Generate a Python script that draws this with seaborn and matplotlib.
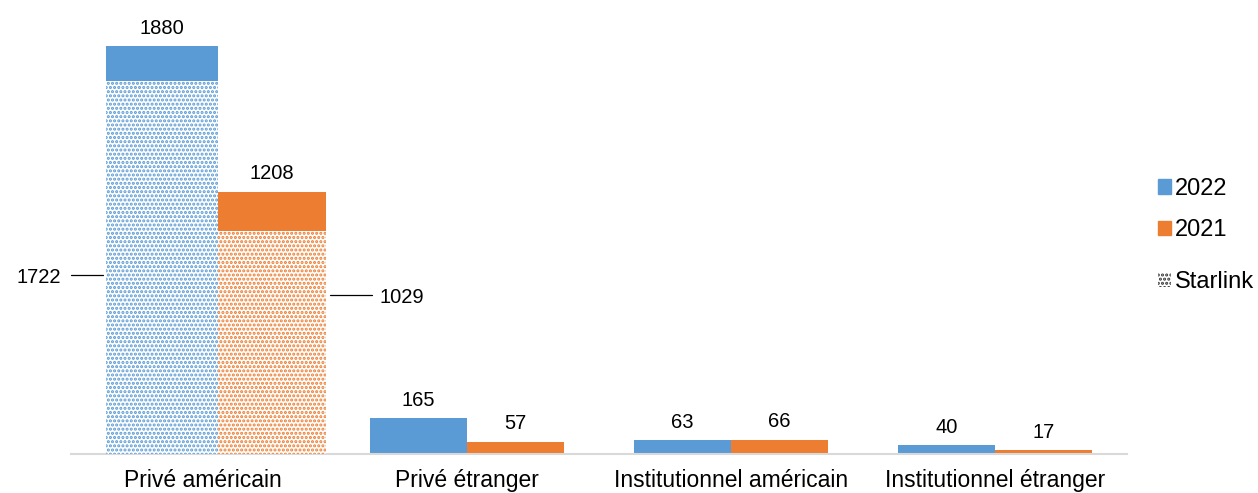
import matplotlib
matplotlib.use("Agg")
import matplotlib.pyplot as plt
import pandas as pd
import seaborn as sns
from matplotlib.patches import Patch

# ── Data ─────────────────────────────────────────────────────────────
categories = ["Privé américain", "Privé étranger",
              "Institutionnel américain", "Institutionnel étranger"]
years = ["2022", "2021"]
values_2022 = [1880, 165, 63, 40]
values_2021 = [1208, 57, 66, 17]
starlink = [1722, 1029]          # Starlink share of "Privé américain" (2022, 2021)

BLUE = "#5B9BD5"
ORANGE = "#ED7D31"
palette = {"2022": BLUE, "2021": ORANGE}

df = pd.DataFrame({
    "category": categories * 2,
    "year": [years[0]] * len(categories) + [years[1]] * len(categories),
    "value": values_2022 + values_2021,
})

# ── Theme ────────────────────────────────────────────────────────────
sns.set_theme(style="white")
plt.rcParams["font.family"] = ["Liberation Sans", "DejaVu Sans"]
plt.rcParams.update({
    "hatch.linewidth": 1.5,
    "text.color": "black",
    "xtick.color": "black",
})

fig = plt.figure(figsize=(12.58, 4.93), dpi=100)
ax = fig.add_axes([0.0564, 0.079, 0.8394, 0.880])

sns.barplot(data=df, x="category", y="value", hue="year", hue_order=years,
            palette=palette, saturation=1, width=0.735, ax=ax,
            edgecolor="none", linewidth=0, legend=False)
year_bars = list(ax.containers)

# first group is drawn a little wider in the original
first_geom = [(-0.367, 0.424), (0.057, 0.409)]
for cont, (x0, w) in zip(year_bars, first_geom):
    bar = cont.patches[0]
    bar.set_x(x0)
    bar.set_width(w)

# Starlink overlay (dotted part of the first group)
for cont, val, col in zip(year_bars, starlink, [BLUE, ORANGE]):
    bar = cont.patches[0]
    ax.bar(bar.get_x(), val, width=bar.get_width(), align="edge",
           color="white", edgecolor=col, hatch="....", linewidth=0, zorder=3)

# value labels on top of bars
for cont in year_bars:
    for bar in cont.patches:
        h = bar.get_height()
        ax.annotate(f"{h:.0f}", (bar.get_x() + bar.get_width() / 2, h),
                    xytext=(0, 13), textcoords="offset points",
                    ha="center", va="center", fontsize=14.5)

# Starlink callouts
b22 = year_bars[0].patches[0]
b21 = year_bars[1].patches[0]
y22, y21 = 825, 733
ax.plot([b22.get_x() - 0.132, b22.get_x() - 0.01], [y22, y22],
        color="black", lw=0.9, clip_on=False)
ax.text(b22.get_x() - 0.17, y22 - 12, f"{starlink[0]}", ha="right",
        va="center", fontsize=14.5)
x21 = b21.get_x() + b21.get_width()
ax.plot([x21 + 0.015, x21 + 0.174], [y21, y21],
        color="black", lw=0.9, clip_on=False)
ax.text(x21 + 0.204, y21 - 12, f"{starlink[1]}", ha="left",
        va="center", fontsize=14.5)

ax.set_xlim(-0.5, 3.5)
ax.set_ylim(0, 2000)
ax.set_xlabel("")
ax.set_ylabel("")
ax.set_yticks([])
ax.tick_params(axis="x", length=0, pad=11, labelsize=16.5, labelcolor="black")
for side in ["top", "right", "left"]:
    ax.spines[side].set_visible(False)
ax.spines["bottom"].set_color("#D9D9D9")
ax.spines["bottom"].set_linewidth(1.5)

# legends
leg_kw = dict(frameon=False, fontsize=17, handlelength=0.55, handleheight=0.55,
              handletextpad=0.15, borderaxespad=0, borderpad=0,
              labelcolor="black")
fig.legend(handles=[Patch(color=BLUE, label="2022"),
                    Patch(color=ORANGE, label="2021")],
           loc="center left", bbox_to_anchor=(0.9205, 0.575),
           labelspacing=0.82, **leg_kw)
fig.legend(handles=[Patch(facecolor="white", edgecolor="#333333",
                          hatch="....", linewidth=0, label="Starlink")],
           loc="center left", bbox_to_anchor=(0.9205, 0.428), **leg_kw)

fig.savefig("out.png", dpi=100)
